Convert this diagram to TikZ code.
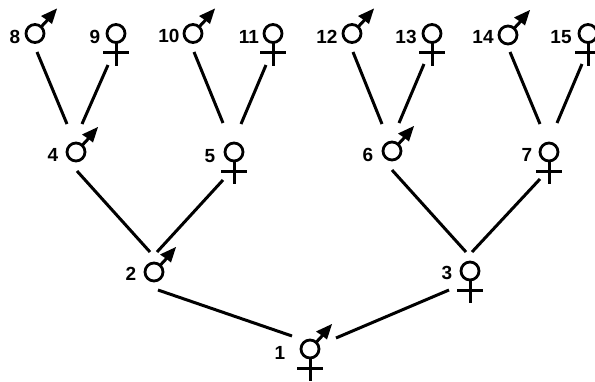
\documentclass[tikz,border=0pt]{standalone}
\usepackage{fontspec}
\setmainfont{Liberation Sans}

\tikzset{
    ring/.style = {circle, draw, line width = 2.8pt, minimum size = 18pt, inner sep = 0pt},
    num/.style = {font = \bfseries\fontsize{19}{19}\selectfont, inner sep = 0pt},
    link/.style = {line width = 3pt},
    sign/.style = {line width = 3pt},
    spearhead/.style = {fill = black}
}

\begin{document}
\begin{tikzpicture}[x = 1pt, y = -1pt]
    \useasboundingbox (0, 0) rectangle (595, 381);

    % Circles and numbers
    \foreach \id/\cx/\cy/\lx/\ly in {
        1/310/349/280/353, 2/154/272/131/274, 3/470/271/447/273,
        4/76/152/53/155, 5/234/152/210/156, 6/392/151/368/155, 7/549/152/527/155,
        8/35/33.5/15/37, 9/116/33.5/95/37, 10/193/33.5/169/36, 11/273/33.5/249/37,
        12/352/33.5/327/37, 13/432/33.5/406/37, 14/508/35/483/37, 15/588/33.5/561/37
    } {
        \node [ring] (n\id) at (\cx, \cy) {};
        \node [num] (t\id) at (\lx, \ly) {\id};
    }

    % Male signs
    \foreach \id in {1, 2, 4, 6, 8, 10, 12, 14} {
        \draw [sign] ([shift = {(6, -6.5)}] n\id.center) -- ([shift = {(13, -14)}] n\id.center);
        \fill [spearhead] ([shift = {(22, -25)}] n\id.center) -- ([shift = {(6, -17.5)}] n\id.center)
            -- ([shift = {(12, -13.5)}] n\id.center) -- ([shift = {(17, -9.5)}] n\id.center) -- cycle;
    }

    % Female signs
    \foreach \id in {1, 3, 5, 7, 9, 11, 13, 15} {
        \draw [sign] ([yshift = -9pt] n\id.center) -- ([yshift = -32pt] n\id.center);
        \draw [sign] ([shift = {(-13, 19)}] n\id.center) -- ([shift = {(13, 19)}] n\id.center);
    }

    % Parent lines
    \foreach \a/\b/\ax/\ay/\bx/\by in {
        8/4/2/18.5/-9/-28, 9/4/-8/31.5/6/-28,
        10/5/1/18.5/-11/-29, 11/5/-7/31.5/7/-28,
        12/6/1/18.5/-10/-27, 13/6/-8/30.5/7/-28,
        14/7/2/17/-9/-28, 15/7/-6/30.5/8/-29,
        4/2/1/19/-4/-20, 5/2/-11/28/3/-20,
        6/3/0/19/-4/-19, 7/3/-9/27/2/-19,
        2/1/4/18/-18/-13, 3/1/-21/19/26/-11
    } {
        \draw [link] ([shift = {(\ax, \ay)}] n\a.center) -- ([shift = {(\bx, \by)}] n\b.center);
    }
\end{tikzpicture}
\end{document}
